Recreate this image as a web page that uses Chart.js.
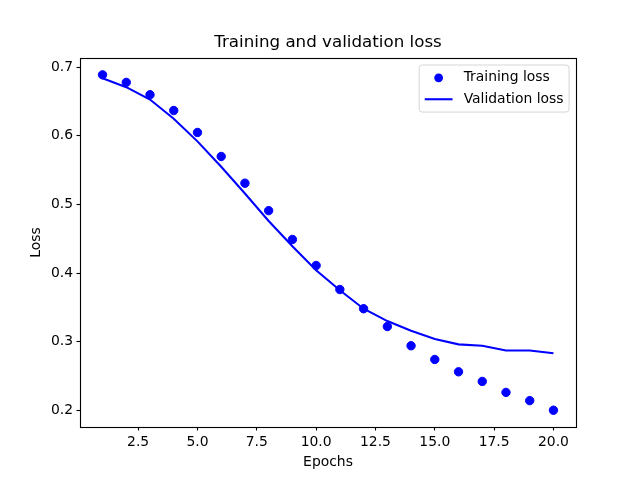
<!DOCTYPE html>
<html>
<head>
<meta charset="utf-8">
<script src="https://cdn.jsdelivr.net/npm/chart.js@4/dist/chart.umd.min.js"></script>
<style>
  html, body { margin: 0; padding: 0; background: #ffffff; }
  #wrap { position: relative; width: 640px; height: 480px; }
  canvas { display: block; }
</style>
</head>
<body>
<div id="wrap"><canvas id="c" width="640" height="480"></canvas></div>
<script>
const epochs = [1, 2, 3, 4, 5, 6, 7, 8, 9, 10, 11, 12, 13, 14, 15, 16, 17, 18, 19, 20];
const trainingLoss = [0.689, 0.678, 0.660, 0.637, 0.605, 0.570, 0.531, 0.491, 0.449, 0.411,
                      0.376, 0.348, 0.322, 0.294, 0.274, 0.256, 0.242, 0.226, 0.214, 0.200];
const validationLoss = [0.684, 0.671, 0.653, 0.625, 0.592, 0.555, 0.516, 0.476, 0.439, 0.404,
                        0.375, 0.348, 0.330, 0.316, 0.304, 0.296, 0.294, 0.287, 0.287, 0.283];
const xTickValues = [2.5, 5.0, 7.5, 10.0, 12.5, 15.0, 17.5, 20.0];
const yTickValues = [0.2, 0.3, 0.4, 0.5, 0.6, 0.7];
const seriesLabels = ['Training loss', 'Validation loss'];
const titleText = 'Training and validation loss';
const xTitle = 'Epochs';
const yTitle = 'Loss';

const FONT = 'DejaVu Sans';
const BLUE = '#0000ff';

const frameAndLegend = {
  id: 'frameAndLegend',
  afterDatasetsDraw(chart) {
    const ctx = chart.ctx;
    const ca = chart.chartArea;
    ctx.save();
    // axes frame
    ctx.strokeStyle = '#000000';
    ctx.lineWidth = 1.11;
    ctx.strokeRect(Math.round(ca.left) + 0.5, Math.round(ca.top) + 0.5,
                   Math.round(ca.right - ca.left), Math.round(ca.bottom - ca.top));
    // legend
    const fs = 13.9;
    ctx.font = fs + 'px "' + FONT + '"';
    const bp = 5.56, hl = 27.8, htp = 11.1, ls = 6.95, rowH = 14.5;
    let maxW = 0;
    seriesLabels.forEach(t => { maxW = Math.max(maxW, ctx.measureText(t).width); });
    const W = bp * 2 + hl + htp + maxW;
    const H = bp * 2 + rowH * 2 + ls;
    const right = ca.right - 6.95;
    const top = ca.top + 6.95;
    const left = right - W;
    ctx.beginPath();
    if (ctx.roundRect) ctx.roundRect(left, top, W, H, 3); else ctx.rect(left, top, W, H);
    ctx.fillStyle = 'rgba(255,255,255,0.8)';
    ctx.fill();
    ctx.strokeStyle = 'rgba(204,204,204,0.8)';
    ctx.lineWidth = 1;
    ctx.stroke();
    const hx0 = left + bp, hx1 = hx0 + hl, hxc = (hx0 + hx1) / 2;
    const y1 = top + bp + rowH / 2;
    const y2 = y1 + rowH + ls;
    ctx.beginPath();
    ctx.arc(hxc, y1, 4.4, 0, Math.PI * 2);
    ctx.fillStyle = BLUE;
    ctx.fill();
    ctx.beginPath();
    ctx.moveTo(hx0, y2);
    ctx.lineTo(hx1, y2);
    ctx.strokeStyle = BLUE;
    ctx.lineWidth = 2.08;
    ctx.stroke();
    ctx.fillStyle = '#000000';
    ctx.textAlign = 'left';
    ctx.textBaseline = 'middle';
    ctx.fillText(seriesLabels[0], hx1 + htp, y1);
    ctx.fillText(seriesLabels[1], hx1 + htp, y2);
    ctx.restore();
  }
};

const tickGrid = {
  display: true,
  drawOnChartArea: false,
  drawTicks: true,
  tickLength: 3.5,
  tickWidth: 1.11,
  tickColor: '#000000',
  color: '#000000'
};

new Chart(document.getElementById('c'), {
  type: 'scatter',
  data: {
    datasets: [
      {
        label: seriesLabels[0],
        data: epochs.map((e, i) => ({ x: e, y: trainingLoss[i] })),
        showLine: false,
        pointRadius: 4.2,
        pointHoverRadius: 4.2,
        pointBorderWidth: 1,
        backgroundColor: BLUE,
        borderColor: BLUE,
        order: 2
      },
      {
        label: seriesLabels[1],
        data: epochs.map((e, i) => ({ x: e, y: validationLoss[i] })),
        showLine: true,
        pointRadius: 0,
        pointHoverRadius: 0,
        borderColor: BLUE,
        backgroundColor: BLUE,
        borderWidth: 2.08,
        tension: 0,
        fill: false,
        order: 1
      }
    ]
  },
  options: {
    responsive: false,
    devicePixelRatio: 1,
    animation: false,
    events: [],
    layout: { padding: { left: 16, right: 0, top: 0, bottom: 0 } },
    plugins: {
      legend: { display: false },
      tooltip: { enabled: false },
      title: {
        display: true,
        text: titleText,
        color: '#000000',
        font: { family: FONT, size: 16.7, weight: 'normal', lineHeight: 1.2 },
        padding: { top: 33, bottom: 5 }
      }
    },
    scales: {
      x: {
        type: 'linear',
        position: 'bottom',
        min: 0.05,
        max: 20.95,
        afterBuildTicks(scale) { scale.ticks = xTickValues.map(v => ({ value: v })); },
        afterFit(scale) { scale.height = 53; },
        border: { display: false },
        grid: tickGrid,
        ticks: {
          autoSkip: false,
          maxRotation: 0,
          padding: 3.5,
          color: '#000000',
          font: { family: FONT, size: 13.9 },
          callback: (v) => Number(v).toFixed(1)
        },
        title: {
          display: true,
          text: xTitle,
          color: '#000000',
          font: { family: FONT, size: 13.9 },
          padding: { top: 0, bottom: 9 }
        }
      },
      y: {
        type: 'linear',
        position: 'left',
        min: 0.17555,
        max: 0.7135,
        afterBuildTicks(scale) { scale.ticks = yTickValues.map(v => ({ value: v })); },
        afterFit(scale) { scale.width = 64; },
        border: { display: false },
        grid: tickGrid,
        ticks: {
          autoSkip: false,
          padding: 3.5,
          color: '#000000',
          font: { family: FONT, size: 13.9 },
          callback: (v) => Number(v).toFixed(1)
        },
        title: {
          display: true,
          text: yTitle,
          color: '#000000',
          font: { family: FONT, size: 13.9 },
          padding: { top: 12, bottom: 0 }
        }
      },
      yRight: {
        type: 'linear',
        position: 'right',
        display: true,
        min: 0,
        max: 1,
        afterFit(scale) { scale.width = 64; },
        border: { display: false },
        grid: { display: false, drawTicks: false },
        ticks: { display: false },
        title: { display: false }
      }
    }
  },
  plugins: [frameAndLegend]
});
</script>
</body>
</html>
